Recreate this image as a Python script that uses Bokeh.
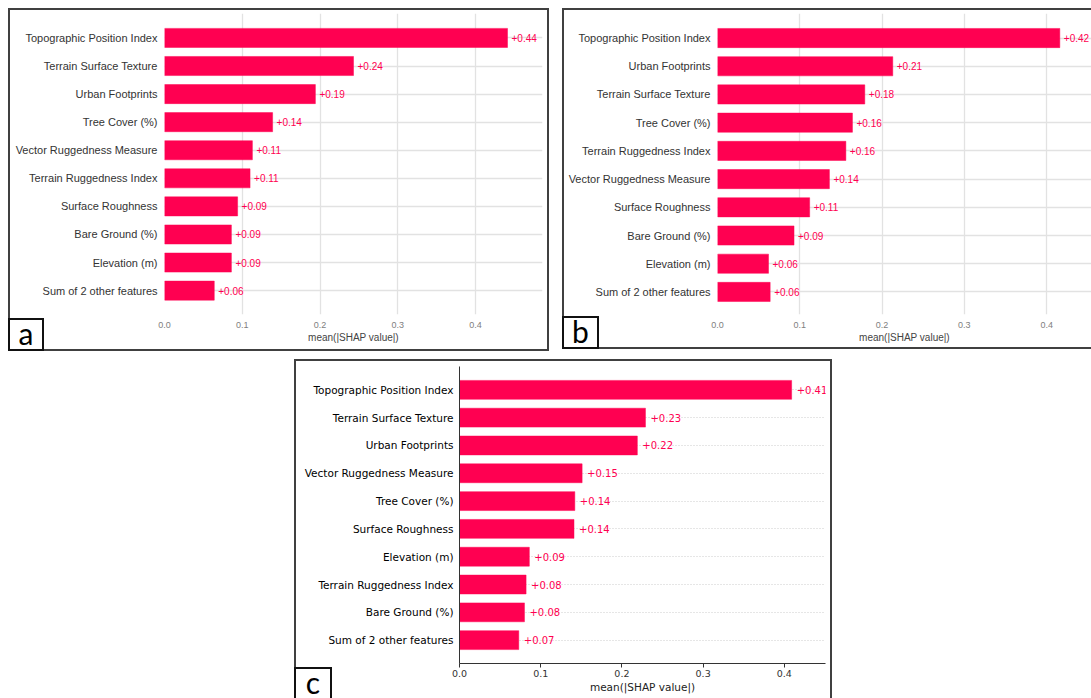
from bokeh.plotting import figure
from bokeh.models import Range1d, FixedTicker, Spacer, ColumnDataSource, PrintfTickFormatter, Div
from bokeh.layouts import row, column
from bokeh.core.properties import value
from bokeh.embed import file_html
from bokeh.resources import INLINE

# ---------------- data ----------------
cats_a = ["Topographic Position Index", "Terrain Surface Texture", "Urban Footprints",
          "Tree Cover (%)", "Vector Ruggedness Measure", "Terrain Ruggedness Index",
          "Surface Roughness", "Bare Ground (%)", "Elevation (m)", "Sum of 2 other features"]
vals_a = [0.441, 0.243, 0.194, 0.139, 0.113, 0.110, 0.094, 0.086, 0.086, 0.064]

cats_b = ["Topographic Position Index", "Urban Footprints", "Terrain Surface Texture",
          "Tree Cover (%)", "Terrain Ruggedness Index", "Vector Ruggedness Measure",
          "Surface Roughness", "Bare Ground (%)", "Elevation (m)", "Sum of 2 other features"]
vals_b = [0.416, 0.213, 0.179, 0.164, 0.156, 0.136, 0.112, 0.093, 0.062, 0.064]

cats_c = ["Topographic Position Index", "Terrain Surface Texture", "Urban Footprints",
          "Vector Ruggedness Measure", "Tree Cover (%)", "Surface Roughness",
          "Elevation (m)", "Terrain Ruggedness Index", "Bare Ground (%)", "Sum of 2 other features"]
vals_c = [0.409, 0.229, 0.219, 0.151, 0.142, 0.141, 0.086, 0.082, 0.080, 0.073]

x_ticks = [0.0, 0.1, 0.2, 0.3, 0.4]
x_title = "mean(|SHAP value|)"
panel_tags = ["a", "b", "c"]

BAR = "#ff0051"


def make_panel(cats, vals, width, height, mb, x_end, y_pad, seaborn, font,
               ylab_size, tick_size, title_size, val_size, val_offset):
    pos = list(range(len(cats)))
    labels = ["+%.2f" % v for v in vals]
    p = figure(width=width, height=height, output_backend="svg", toolbar_location=None,
               x_range=Range1d(0, x_end),
               y_range=Range1d(len(cats) - 1 + y_pad[1], -y_pad[0]),
               min_border_left=mb[0], min_border_right=mb[1],
               min_border_top=mb[2], min_border_bottom=mb[3])
    p.outline_line_color = None
    p.background_fill_color = "white"
    p.border_fill_color = "white"
    src = ColumnDataSource(dict(y=pos, v=vals, t=labels))
    p.hbar(y="y", right="v", left=0, height=0.68, source=src, fill_color=BAR,
           line_color=BAR, line_alpha=0.6, line_width=0.8)
    p.text(x="v", y="y", text="t", source=src, x_offset=val_offset, text_baseline="middle",
           text_align="left", text_color=BAR, text_font=value(font),
           text_font_size=val_size)

    # axes
    p.yaxis.ticker = FixedTicker(ticks=pos)
    p.yaxis.major_label_overrides = {i: c for i, c in zip(pos, cats)}
    p.yaxis.major_tick_line_color = None
    p.yaxis.major_tick_out = 0
    p.yaxis.major_tick_in = 0
    p.yaxis.minor_tick_line_color = None
    p.yaxis.major_label_text_font = font
    p.yaxis.major_label_text_font_size = ylab_size
    p.xaxis.ticker = FixedTicker(ticks=x_ticks)
    p.xaxis.formatter = PrintfTickFormatter(format="%.1f")
    p.xaxis.axis_label = x_title
    p.xaxis.axis_label_text_font = font
    p.xaxis.axis_label_text_font_style = "normal"
    p.xaxis.axis_label_text_font_size = title_size
    p.xaxis.major_label_text_font = font
    p.xaxis.major_label_text_font_size = tick_size
    p.xaxis.minor_tick_line_color = None

    p.ygrid.ticker = FixedTicker(ticks=pos)
    if seaborn:
        p.yaxis.major_label_standoff = 7
        p.yaxis.axis_line_color = None
        p.yaxis.major_label_text_color = "#333333"
        p.xaxis.axis_line_color = None
        p.xaxis.major_tick_line_color = None
        p.xaxis.major_tick_out = 0
        p.xaxis.major_tick_in = 0
        p.xaxis.major_label_text_color = "#808080"
        p.xaxis.axis_label_text_color = "#444444"
        p.xaxis.major_label_standoff = 7
        p.xaxis.axis_label_standoff = 1
        p.xgrid.ticker = FixedTicker(ticks=x_ticks)
        p.xgrid.grid_line_color = "#e2e2e2"
        p.xgrid.grid_line_width = 1.3
        p.ygrid.grid_line_color = "#e2e2e2"
        p.ygrid.grid_line_width = 1.3
    else:
        p.yaxis.major_label_standoff = 6
        p.yaxis.axis_line_color = "#333333"
        p.yaxis.major_label_text_color = "#000000"
        p.xaxis.axis_line_color = "#333333"
        p.xaxis.major_tick_line_color = "#333333"
        p.xaxis.major_tick_out = 4
        p.xaxis.major_tick_in = 0
        p.xaxis.major_label_standoff = 2
        p.xaxis.axis_label_standoff = 1
        p.xaxis.major_label_text_color = "#333333"
        p.xaxis.axis_label_text_color = "#222222"
        p.xgrid.grid_line_color = None
        p.ygrid.grid_line_color = "#cccccc"
        p.ygrid.grid_line_dash = "1 2"
        p.ygrid.grid_line_width = 1
    return p


def frame_box(left, top, w, h, widths):
    return Div(text="", width=w, height=h, margin=0, styles={
        "position": "absolute", "left": f"{left}px", "top": f"{top}px",
        "width": f"{w}px", "height": f"{h}px", "box-sizing": "border-box",
        "margin": "0px",
        "border-style": "solid", "border-color": "#404040", "border-width": widths,
        "pointer-events": "none", "background": "transparent", "z-index": "5"})


def tag_box(tag, left, top, w, h, widths):
    return Div(text=tag, width=w, height=h, margin=0, styles={
        "position": "absolute", "left": f"{left}px", "top": f"{top}px",
        "width": f"{w}px", "height": f"{h}px", "box-sizing": "border-box",
        "margin": "0px",
        "border-style": "solid", "border-color": "#111111", "border-width": widths,
        "background": "white", "color": "black", "font-family": "Lato",
        "font-size": "30px", "line-height": "26px", "text-align": "center",
        "z-index": "6"})


pa = make_panel(cats_a, vals_a, 541, 342, (156, 7, 5, 34), 0.486,
                (0.87, 0.85), True, "Liberation Sans", "11px", "9px", "10px", "10px", 4)
pb = make_panel(cats_b, vals_b, 529, 342, (155, 0, 5, 36), 0.4545,
                (0.87, 0.8), True, "Liberation Sans", "11px", "9px", "10px", "10px", 4)
pc = make_panel(cats_c, vals_c, 538, 338, (165, 7, 6, 35), 0.4507,
                (0.84, 0.84), False, "DejaVu Sans", "10.5px", "9.5px", "10.5px", "10px", 5)

boxes = [
    frame_box(8, 8, 541, 343, "2px"),
    frame_box(562, 8, 529, 341, "2px 0 2px 2px"),
    frame_box(294, 359, 538, 339, "2px 2px 0 2px"),
    tag_box(panel_tags[0], 8, 318, 36, 33, "2px"),
    tag_box(panel_tags[1], 562, 316, 37, 33, "2px"),
    tag_box(panel_tags[2], 294, 667, 38, 31, "2px 2px 0 2px"),
]

layout = column(
    Spacer(height=8),
    row(Spacer(width=8), pa, Spacer(width=13), pb),
    Spacer(height=10),
    row(Spacer(width=294), pc),
    *boxes,
)

open("out.html", "w").write(file_html(layout, INLINE))
